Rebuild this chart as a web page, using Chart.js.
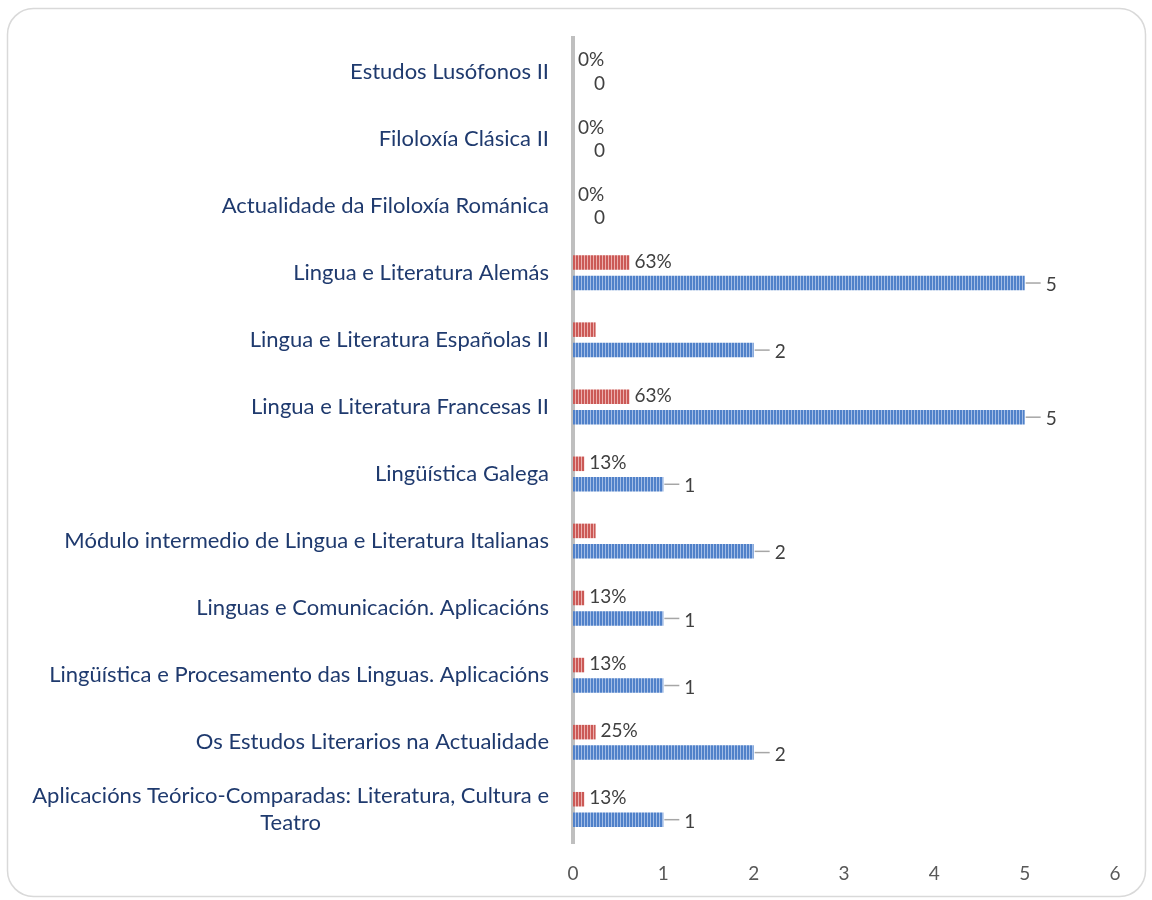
<!DOCTYPE html>
<html>
<head>
<meta charset="utf-8">
<script src="https://cdn.jsdelivr.net/npm/chart.js@4.4.1/dist/chart.umd.min.js"></script>
<style>
html,body{margin:0;padding:0;background:#fff;}
#wrap{width:1152px;height:900px;position:relative;}
</style>
</head>
<body>
<div id="wrap"><canvas id="c" width="1152" height="900"></canvas></div>
<script>
const categories = [
  'Estudos Lusófonos II',
  'Filoloxía Clásica II',
  'Actualidade da Filoloxía Románica',
  'Lingua e Literatura Alemás',
  'Lingua e Literatura Españolas II',
  'Lingua e Literatura Francesas II',
  'Lingüística Galega',
  'Módulo intermedio de Lingua e Literatura Italianas',
  'Linguas e Comunicación. Aplicacións',
  'Lingüística e Procesamento das Linguas. Aplicacións',
  'Os Estudos Literarios na Actualidade',
  ['Aplicacións Teórico-Comparadas: Literatura, Cultura e', 'Teatro']
];
const counts = [0, 0, 0, 5, 2, 5, 1, 2, 1, 1, 2, 1];
const shares = [0, 0, 0, 0.625, 0.25, 0.625, 0.125, 0.25, 0.125, 0.125, 0.25, 0.125];
const shareLabels = ['0%', '0%', '0%', '63%', '', '63%', '13%', '', '13%', '13%', '25%', '13%'];
const xTicks = [0, 1, 2, 3, 4, 5, 6];

function stripe(dark, light) {
  const p = document.createElement('canvas');
  p.width = 3; p.height = 4;
  const g = p.getContext('2d');
  g.fillStyle = dark; g.fillRect(0, 0, 3, 4);
  g.fillStyle = light; g.fillRect(2, 0, 1, 4);
  return document.getElementById('c').getContext('2d').createPattern(p, 'repeat');
}
const bluePat = stripe('#5081C9', '#A3BDE6');
const redPat = stripe('#CB5956', '#ECAFAD');

const FONT_FAMILY = 'Lato, "Liberation Sans", sans-serif';
const LABEL_FONT = '22px ' + FONT_FAMILY;

const framePlugin = {
  id: 'frame',
  beforeDraw(chart) {
    const ctx = chart.ctx;
    ctx.save();
    ctx.fillStyle = '#fff';
    ctx.fillRect(0, 0, chart.width, chart.height);
    ctx.strokeStyle = '#D9D9D9';
    ctx.lineWidth = 1.5;
    ctx.beginPath();
    ctx.roundRect(7.5, 8.5, 1138, 888, 26);
    ctx.stroke();
    ctx.restore();
  }
};

const catLabelPlugin = {
  id: 'catLabels',
  afterDraw(chart) {
    const ctx = chart.ctx;
    const y = chart.scales.y;
    const right = chart.chartArea.left - 24;
    ctx.save();
    ctx.font = LABEL_FONT;
    ctx.fillStyle = '#1F3A6E';
    ctx.textBaseline = 'middle';
    categories.forEach((lab, i) => {
      const cy = y.getPixelForTick(i);
      if (Array.isArray(lab)) {
        const widths = lab.map(l => ctx.measureText(l).width);
        const maxW = Math.max(...widths);
        const cx = right - maxW / 2;
        const lh = 27;
        ctx.textAlign = 'center';
        lab.forEach((l, k) => {
          ctx.fillText(l, cx, cy + (k - (lab.length - 1) / 2) * lh);
        });
      } else {
        ctx.textAlign = 'right';
        ctx.fillText(lab, right, cy);
      }
    });
    ctx.restore();
  }
};

const valueLabelPlugin = {
  id: 'valueLabels',
  afterDatasetsDraw(chart) {
    const ctx = chart.ctx;
    ctx.save();
    ctx.font = '19px ' + FONT_FAMILY;
    ctx.fillStyle = '#404040';
    ctx.textBaseline = 'middle';
    ctx.textAlign = 'left';
    chart.getDatasetMeta(0).data.forEach((bar, i) => {
      const t = shareLabels[i];
      if (!t) return;
      ctx.fillText(t, bar.x + 5, bar.y - 1);
    });
    chart.getDatasetMeta(1).data.forEach((bar, i) => {
      const t = String(counts[i]);
      ctx.strokeStyle = '#A6A6A6';
      ctx.lineWidth = 1.5;
      if (counts[i] > 0) {
        ctx.beginPath();
        ctx.moveTo(bar.x + 1, bar.y);
        ctx.lineTo(bar.x + 16, bar.y);
        ctx.stroke();
      }
      ctx.fillText(t, bar.x + 21, bar.y + 2);
    });
    ctx.restore();
  }
};

new Chart(document.getElementById('c'), {
  type: 'bar',
  data: {
    labels: categories,
    datasets: [
      { label: 'share', data: shares, backgroundColor: redPat, categoryPercentage: 0.61, barPercentage: 0.71 },
      { label: 'count', data: counts, backgroundColor: bluePat, categoryPercentage: 0.61, barPercentage: 0.71 }
    ]
  },
  options: {
    indexAxis: 'y',
    responsive: false,
    animation: false,
    layout: { padding: { left: 0, right: 37, top: 38, bottom: 0 } },
    plugins: { legend: { display: false }, tooltip: { enabled: false } },
    scales: {
      x: {
        min: 0, max: 6,
        afterBuildTicks(scale) { scale.ticks = xTicks.map(v => ({ value: v })); },
        grid: { display: false, drawTicks: false },
        border: { display: false },
        ticks: { color: '#595959', font: { family: FONT_FAMILY, size: 19 }, padding: 19 },
        afterFit(scale) { scale.height = 57; }
      },
      y: {
        grid: { display: false, drawTicks: false },
        border: { display: true, color: '#BFBFBF', width: 4 },
        ticks: { display: false },
        afterFit(scale) { scale.width = 573; }
      }
    }
  },
  plugins: [framePlugin, catLabelPlugin, valueLabelPlugin]
});
</script>
</body>
</html>
